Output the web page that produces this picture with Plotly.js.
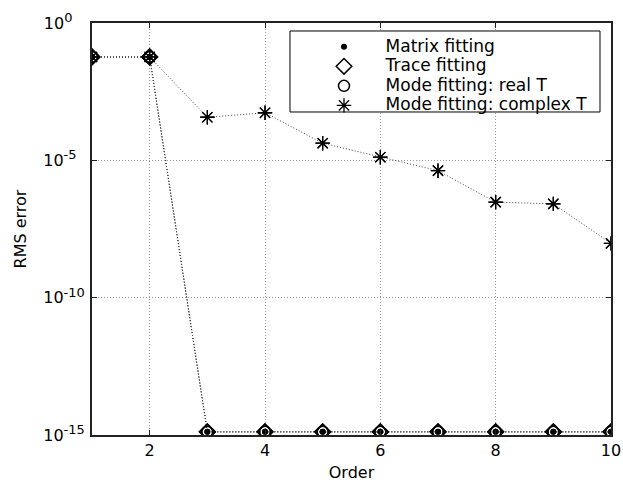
<!DOCTYPE html>
<html>
<head>
<meta charset="utf-8">
<script src="https://cdn.plot.ly/plotly-3.0.1.min.js"></script>
<style>html,body{margin:0;padding:0;background:#fff;}#chart{width:623px;height:482px;}</style>
</head>
<body>
<div id="chart"></div>
<script>
// Data
var order = [1, 2, 3, 4, 5, 6, 7, 8, 9, 10];
var matrixFitting = [0.058, 0.058, 1.3e-15, 1.3e-15, 1.3e-15, 1.3e-15, 1.3e-15, 1.3e-15, 1.3e-15, 1.3e-15];
var traceFitting  = [0.058, 0.058, 1.3e-15, 1.3e-15, 1.3e-15, 1.3e-15, 1.3e-15, 1.3e-15, 1.3e-15, 1.3e-15];
var modeRealT     = [0.058, 0.058, 1.3e-15, 1.3e-15, 1.3e-15, 1.3e-15, 1.3e-15, 1.3e-15, 1.3e-15, 1.3e-15];
var modeComplexT  = [0.058, 0.058, 3.7e-4, 5.4e-4, 4.2e-5, 1.3e-5, 4.2e-6, 3.0e-7, 2.6e-7, 9.5e-9];
var seriesNames = ['Matrix fitting', 'Trace fitting', 'Mode fitting: real T', 'Mode fitting: complex T'];
var yTickVals = [1e-15, 1e-10, 1e-5, 1];
var yTickText = ['10<sup><span style="font-size:13px">-15</span></sup>',
                 '10<sup><span style="font-size:13px">-10</span></sup>',
                 '10<sup><span style="font-size:13px">-5\u00a0\u00a0</span></sup>',
                 '10<sup><span style="font-size:13px">0\u00a0\u00a0\u00a0</span></sup>'];
var xTickVals = [2, 4, 6, 8, 10];

var FONT = 'DejaVu Sans, Arial, sans-serif';
var LEGEND_PAD = '\u00a0\u00a0\u00a0\u00a0';
var series = [
  {y: matrixFitting, marker: {symbol: 'circle', size: 6, color: '#000', line: {width: 0}}},
  {y: traceFitting,  marker: {symbol: 'diamond-open', size: 12, color: '#000', line: {width: 1.5, color: '#000'}}},
  {y: modeRealT,     marker: {symbol: 'circle-open', size: 11, color: '#000', line: {width: 1.5, color: '#000'}}},
  {y: modeComplexT,  marker: {symbol: 'asterisk-open', size: 12, color: '#000', line: {width: 1.3, color: '#000'}}}
];

var traces = [];
series.forEach(function (s, i) {
  traces.push({
    x: order, y: s.y, type: 'scatter', mode: 'lines+markers',
    line: {color: '#444', width: 1, dash: '1px,2px'},
    marker: s.marker, showlegend: false, hoverinfo: 'skip'
  });
});
series.forEach(function (s, i) {
  traces.push({
    x: order, y: s.y, type: 'scatter', mode: 'markers',
    name: '<span style="font-size:17px">' + LEGEND_PAD + seriesNames[i] + '</span>',
    marker: s.marker, showlegend: true, hoverinfo: 'skip'
  });
});

var layout = {
  width: 623, height: 482,
  margin: {l: 92, r: 12, t: 23, b: 47},
  paper_bgcolor: '#fff', plot_bgcolor: '#fff',
  font: {family: FONT, size: 16, color: '#000'},
  showlegend: true,
  shapes: [{
    type: 'rect', xref: 'paper', yref: 'paper', layer: 'above',
    x0: 0.3815, x1: 0.9788, y0: 0.784, y1: 0.9806,
    fillcolor: '#fff', line: {color: '#000', width: 1}
  }],
  legend: {
    x: 0.4470, y: 0.978, xanchor: 'left', yanchor: 'top',
    bgcolor: 'rgba(0,0,0,0)', borderwidth: 0,
    font: {family: FONT, size: 12.7, color: '#000'},
    itemwidth: 30, traceorder: 'normal'
  },
  xaxis: {
    range: [1, 10], tickvals: xTickVals,
    showline: true, linecolor: '#222', linewidth: 2, mirror: 'ticks',
    ticks: 'inside', ticklen: 5, tickcolor: '#222', tickwidth: 1,
    showgrid: true, gridcolor: '#999', gridwidth: 1, griddash: '1px,2px',
    zeroline: false,
    tickfont: {family: FONT, size: 16, color: '#000'},
    title: {text: 'Order', font: {family: FONT, size: 16, color: '#000'}, standoff: 10}
  },
  yaxis: {
    type: 'log', range: [-15, 0], tickvals: yTickVals, ticktext: yTickText,
    showline: true, linecolor: '#222', linewidth: 2, mirror: 'ticks',
    ticks: 'inside', ticklen: 5, tickcolor: '#222', tickwidth: 1,
    showgrid: true, gridcolor: '#999', gridwidth: 1, griddash: '1px,2px',
    zeroline: false, ticklabelstandoff: 2,
    tickfont: {family: FONT, size: 16, color: '#000'},
    title: {text: 'RMS error', font: {family: FONT, size: 16, color: '#000'}, standoff: 13}
  }
};

Plotly.newPlot('chart', traces, layout, {displayModeBar: false, staticPlot: true});
</script>
</body>
</html>
